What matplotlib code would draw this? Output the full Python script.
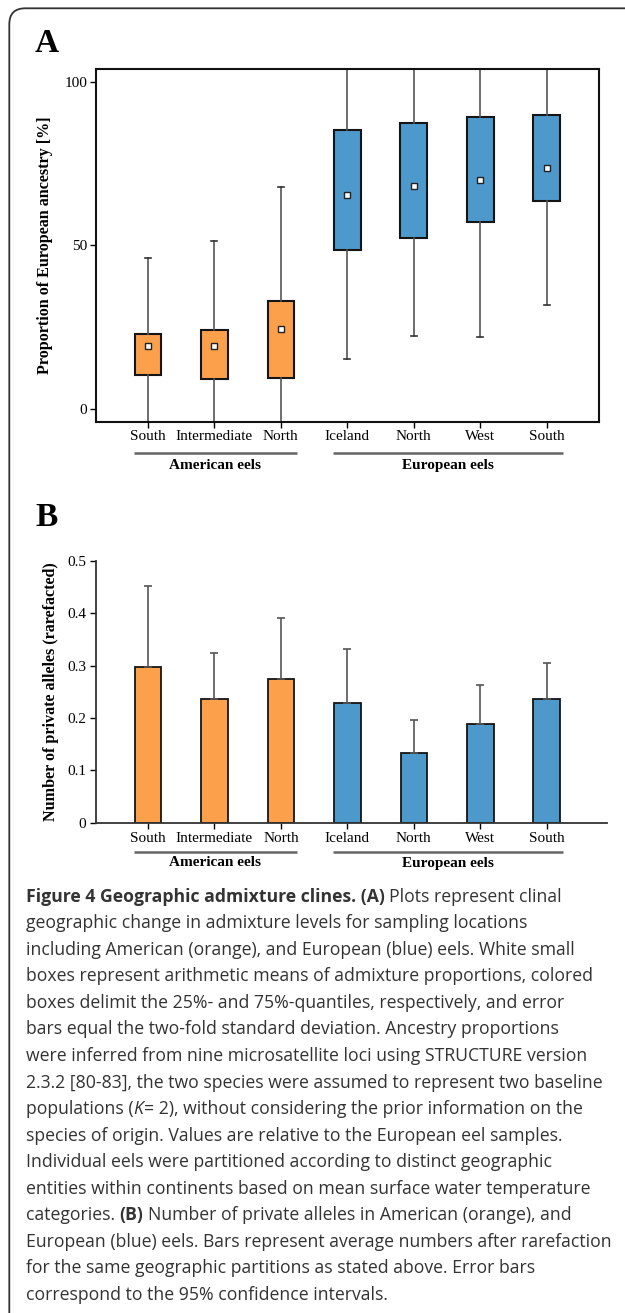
import matplotlib
matplotlib.use("Agg")
from matplotlib import pyplot as plt
from matplotlib import patches
from matplotlib.transforms import blended_transform_factory

# sampling partitions
sites = ["South", "Intermediate", "North", "Iceland", "North", "West", "South"]
groups = ["American eels", "European eels"]
group_members = [[0, 1, 2], [3, 4, 5, 6]]

# panel A: admixture proportions [%]
q25 = [10.3, 9.0, 9.4, 48.6, 52.2, 57.0, 63.6]
q75 = [22.7, 24.1, 32.8, 85.1, 87.5, 89.3, 89.9]
means = [19.2, 19.2, 24.4, 65.4, 68.2, 69.9, 73.6]
sd2_low = [-7.8, -12.8, -18.9, 15.2, 22.2, 21.9, 31.7]
sd2_high = [46.2, 51.2, 67.7, 115.6, 114.2, 117.9, 115.5]

# panel B: private alleles (rarefacted)
alleles = [0.298, 0.236, 0.275, 0.229, 0.134, 0.188, 0.236]
ci_high = [0.452, 0.324, 0.392, 0.331, 0.197, 0.264, 0.305]

orange = "#FDA04C"
blue = "#4E99CC"
colors = [orange] * 3 + [blue] * 4

W, H = 625, 1313
fig = plt.figure(figsize=(W / 100, H / 100), dpi=100)
serif = "Liberation Serif"
pos = list(range(1, 8))


def fy(px):
    return 1 - px / H


# outer frame
frame = patches.FancyBboxPatch((0.093, -0.5), 7.0, 13.047 + 0.5,
                               boxstyle="round,pad=0,rounding_size=0.16",
                               transform=fig.dpi_scale_trans, fill=False,
                               edgecolor="#333333", linewidth=1.3)
fig.patches.append(frame)


def group_labels(ax, line_px, text_px):
    tr = blended_transform_factory(ax.transData, fig.transFigure)
    for name, members in zip(groups, group_members):
        x0 = pos[members[0]] - 0.21
        x1 = pos[members[-1]] + 0.24
        ax.plot([x0, x1], [fy(line_px), fy(line_px)], transform=tr,
                color="#666666", lw=1.8, clip_on=False, solid_capstyle="butt")
        ax.text((x0 + x1) / 2, fy(text_px), name, transform=tr, ha="center",
                va="center", fontsize=11, fontweight="bold", family=serif)


# ---------- panel A ----------
axA = fig.add_axes([95.7 / W, fy(421.7), (598.6 - 95.7) / W, (421.7 - 69.3) / H])
stats = []
for i in range(7):
    stats.append(dict(med=means[i], q1=q25[i], q3=q75[i], whislo=sd2_low[i],
                      whishi=sd2_high[i], mean=means[i], fliers=[]))
bp = axA.bxp(stats, positions=pos, widths=0.4, patch_artist=True, showmeans=True,
             capwidths=0.09,
             boxprops=dict(edgecolor="#151515", linewidth=1.5),
             whiskerprops=dict(color="#555555", linewidth=1.2),
             capprops=dict(color="#333333", linewidth=1.2),
             medianprops=dict(linewidth=0),
             meanprops=dict(marker="s", markerfacecolor="white",
                            markeredgecolor="#222222", markersize=4.2,
                            markeredgewidth=1.0))
for box, c in zip(bp["boxes"], colors):
    box.set_facecolor(c)
axA.set_xlim(0.215, 7.78)
axA.set_ylim(-4.0, 103.8)
axA.set_yticks([0, 50, 100])
axA.set_xticks(pos)
axA.set_xticklabels(sites)
axA.tick_params(direction="out", length=4, width=1, labelsize=11, pad=2)
for lab in axA.get_xticklabels() + axA.get_yticklabels():
    lab.set_family(serif)
for s in axA.spines.values():
    s.set_linewidth(1.5)
    s.set_color("#111111")
axA.set_ylabel("Proportion of European ancestry [%]", fontsize=11.6,
               fontweight="bold", family=serif, labelpad=8)
group_labels(axA, 453.3, 465.5)
fig.text(35 / W, fy(43), "A", fontsize=24, fontweight="bold", family=serif,
         va="center", ha="left")

# ---------- panel B ----------
axB = fig.add_axes([95.7 / W, fy(822.7), (606.6 - 95.7) / W, (822.7 - 561) / H])
err_up = [h - m for h, m in zip(ci_high, alleles)]
axB.bar(pos, alleles, width=0.4, color=colors, edgecolor="#151515", linewidth=1.3,
        yerr=[[0] * 7, err_up], capsize=2.8,
        error_kw=dict(ecolor="#555555", elinewidth=1.2, capthick=1.2), zorder=2)
axB.set_xlim(0.215, 7.9)
axB.set_ylim(0, 0.5)
axB.set_yticks([0, 0.1, 0.2, 0.3, 0.4, 0.5])
axB.set_yticklabels(["0", "0.1", "0.2", "0.3", "0.4", "0.5"])
axB.set_xticks(pos)
axB.set_xticklabels(sites)
axB.tick_params(direction="out", length=4, width=1, labelsize=11, pad=3)
for lab in axB.get_xticklabels() + axB.get_yticklabels():
    lab.set_family(serif)
axB.spines["top"].set_visible(False)
axB.spines["right"].set_visible(False)
for s in ["left", "bottom"]:
    axB.spines[s].set_linewidth(1.3)
    axB.spines[s].set_color("#333333")
axB.set_ylabel("Number of private alleles (rarefacted)", fontsize=11.6,
               fontweight="bold", family=serif, labelpad=6)
group_labels(axB, 851.7, 863)
fig.text(35 / W, fy(518), "B", fontsize=24, fontweight="bold", family=serif,
         va="center", ha="left")

# ---------- caption ----------
cap_font = "Open Sans"
cap_size = 12.7
lines = [
    "geographic change in admixture levels for sampling locations",
    "including American (orange), and European (blue) eels. White small",
    "boxes represent arithmetic means of admixture proportions, colored",
    "boxes delimit the 25%- and 75%-quantiles, respectively, and error",
    "bars equal the two-fold standard deviation. Ancestry proportions",
    "were inferred from nine microsatellite loci using STRUCTURE version",
    "2.3.2 [80-83], the two species were assumed to represent two baseline",
    None,
    "species of origin. Values are relative to the European eel samples.",
    "Individual eels were partitioned according to distinct geographic",
    "entities within continents based on mean surface water temperature",
    None,
    "European (blue) eels. Bars represent average numbers after rarefaction",
    "for the same geographic partitions as stated above. Error bars",
    "correspond to the 95% confidence intervals.",
]
x0 = 26 / W
y_first = 896.7
step = 26.55
color_txt = "#333333"

# line 1 mixes bold and regular
t = fig.text(x0, fy(y_first), "Figure 4 Geographic admixture clines. (A)",
             fontsize=cap_size, family=cap_font, fontweight="bold", va="center",
             color=color_txt)
fig.canvas.draw()
bb = t.get_window_extent()
fig.text(bb.x1 / W + 4 / W, fy(y_first), "Plots represent clinal", fontsize=cap_size,
         family=cap_font, va="center", color=color_txt)

for k, ln in enumerate(lines):
    y = fy(y_first + (k + 1) * step)
    if ln is not None:
        fig.text(x0, y, ln, fontsize=cap_size, family=cap_font, va="center",
                 color=color_txt)

# line with italic K
y = fy(y_first + 8 * step)
t1 = fig.text(x0, y, "populations (", fontsize=cap_size, family=cap_font,
              va="center", color=color_txt)
fig.canvas.draw()
xa = t1.get_window_extent().x1
t2 = fig.text(xa / W, y, "K", fontsize=cap_size, family=cap_font, style="italic",
              va="center", color=color_txt)
fig.canvas.draw()
xb = t2.get_window_extent().x1
fig.text(xb / W + 1 / W, y, "= 2), without considering the prior information on the",
         fontsize=cap_size, family=cap_font, va="center", color=color_txt)

# line with bold (B)
y = fy(y_first + 12 * step)
t1 = fig.text(x0, y, "categories. ", fontsize=cap_size, family=cap_font,
              va="center", color=color_txt)
fig.canvas.draw()
xa = t1.get_window_extent().x1
t2 = fig.text(xa / W, y, "(B)", fontsize=cap_size, family=cap_font,
              fontweight="bold", va="center", color=color_txt)
fig.canvas.draw()
xb = t2.get_window_extent().x1
fig.text(xb / W + 4 / W, y, "Number of private alleles in American (orange), and",
         fontsize=cap_size, family=cap_font, va="center", color=color_txt)

fig.savefig("out.png", dpi=100)
